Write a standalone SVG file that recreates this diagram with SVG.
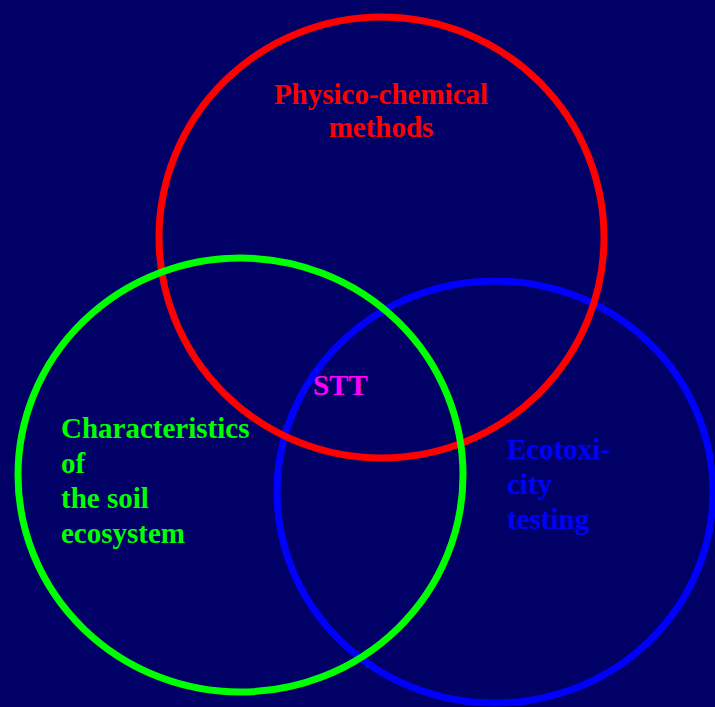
<svg xmlns="http://www.w3.org/2000/svg" width="715" height="707" viewBox="0 0 715 707">
<style>
.c{fill:none;stroke-width:7}
.t{font-family:"Liberation Serif","Times New Roman",serif;font-weight:bold;font-size:29px}
</style>
<rect width="715" height="707" fill="#000066"/>
<g id="blue">
<ellipse class="c" cx="495" cy="492" rx="218" ry="211" stroke="#0000FF"/>
<text class="t" fill="#0000FF"><tspan x="507" y="459">Ecotoxi-</tspan><tspan x="507" y="494">city</tspan><tspan x="507" y="529">testing</tspan></text>
</g>
<g id="red">
<ellipse class="c" cx="381.5" cy="237.5" rx="222.5" ry="220.5" stroke="#FF0000"/>
<text class="t" fill="#FF0000" text-anchor="middle"><tspan x="381" y="104">Physico-chemical</tspan><tspan x="381" y="137">methods</tspan></text>
</g>
<g id="green">
<ellipse class="c" cx="240.5" cy="475" rx="222.5" ry="217" stroke="#00FF00"/>
<text class="t" fill="#00FF00"><tspan x="61" y="438">Characteristics</tspan><tspan x="61" y="473">of</tspan><tspan x="61" y="508">the soil</tspan><tspan x="61" y="543">ecosystem</tspan></text>
</g>
<g id="stt">
<text class="t" fill="#FF00FF" x="313" y="395">STT</text>
</g>
<g id="connectors"/>
</svg>
